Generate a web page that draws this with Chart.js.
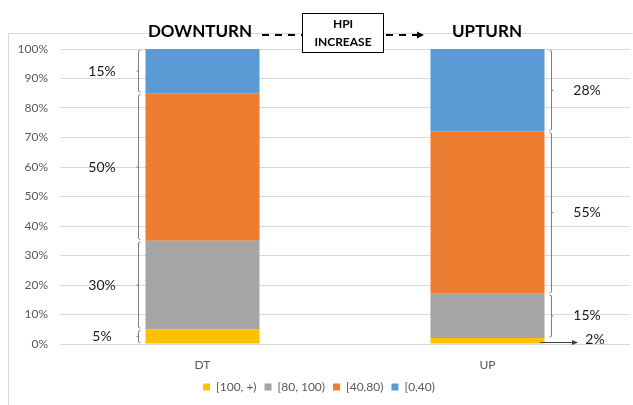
<!DOCTYPE html>
<html>
<head>
<meta charset="utf-8">
<script src="https://cdn.jsdelivr.net/npm/chart.js@4/dist/chart.umd.min.js"></script>
<style>
  html, body { margin: 0; padding: 0; background: #fff; }
  #wrap { width: 633px; height: 405px; }
</style>
</head>
<body>
<div id="wrap"><canvas id="c" width="633" height="405"></canvas></div>
<script>
// categories + series (percent share of each HPI bucket)
const categories = ['DT', 'UP'];
const seriesNames = ['[100, +)', '[80, 100)', '[40,80)', '[0,40)'];
const seriesColors = ['#FFC000', '#A5A5A5', '#ED7D31', '#5B9BD5'];
const valsBand100 = [5, 2];
const valsBand80 = [30, 15];
const valsBand40 = [50, 55];
const valsBand0 = [15, 28];
const yTicks = [0, 10, 20, 30, 40, 50, 60, 70, 80, 90, 100];

const font = 'Lato, "Open Sans", sans-serif';
const allVals = [valsBand100, valsBand80, valsBand40, valsBand0];

// braces + labels next to the bars, and the header text
const annotate = {
  id: 'annotate',
  beforeDraw(chart) {
    const ctx = chart.ctx;
    ctx.save();
    ctx.strokeStyle = '#d9d9d9';
    ctx.lineWidth = 1;
    ctx.beginPath();
    ctx.moveTo(8.5, 405);
    ctx.lineTo(8.5, 33.5);
    ctx.lineTo(632.5, 33.5);
    ctx.stroke();
    ctx.restore();
  },
  afterDraw(chart) {
    const ctx = chart.ctx;
    const y = chart.scales.y;
    ctx.save();

    function brace(x, top, bot, dir) {
      // vertical line with hooks toward the bar and a small tick away from it
      ctx.strokeStyle = '#7f7f7f';
      ctx.lineWidth = 1;
      ctx.beginPath();
      ctx.moveTo(x + dir * 2, top);
      ctx.lineTo(x, top + 1);
      ctx.lineTo(x, bot - 1);
      ctx.lineTo(x + dir * 2, bot);
      const mid = (top + bot) / 2;
      ctx.moveTo(x, mid);
      ctx.lineTo(x - dir * 2, mid);
      ctx.stroke();
    }

    function label(txt, x, yy) {
      ctx.fillStyle = '#1a1a1a';
      ctx.font = '14px ' + font;
      ctx.textAlign = 'center';
      ctx.textBaseline = 'middle';
      ctx.fillText(txt, x, yy);
    }

    // DT (left side)
    let cum = 0;
    allVals.forEach((arr) => {
      const v = arr[0];
      const top = y.getPixelForValue(cum + v) + 1;
      const bot = y.getPixelForValue(cum) - 1;
      brace(138.5, top, bot, 1);
      label(v + '%', 102, (top + bot) / 2);
      cum += v;
    });

    // UP (right side)
    cum = 0;
    allVals.forEach((arr, i) => {
      const v = arr[1];
      const top = y.getPixelForValue(cum + v) + 1;
      const bot = y.getPixelForValue(cum) - 1;
      if (i === 0) {
        // tiny slice: arrow out to the label
        const ay = y.getPixelForValue(0) - 1.5;
        ctx.strokeStyle = '#404040';
        ctx.lineWidth = 1;
        ctx.beginPath();
        ctx.moveTo(540, ay);
        ctx.lineTo(573, ay);
        ctx.stroke();
        ctx.fillStyle = '#404040';
        ctx.beginPath();
        ctx.moveTo(578, ay);
        ctx.lineTo(572, ay - 2.5);
        ctx.lineTo(572, ay + 2.5);
        ctx.closePath();
        ctx.fill();
        label(v + '%', 595, ay - 3);
      } else {
        brace(551.5, top, bot, -1);
        label(v + '%', 587, (top + bot) / 2);
      }
      cum += v;
    });

    // header
    ctx.fillStyle = '#000';
    ctx.font = 'bold 17px ' + font;
    ctx.textAlign = 'center';
    ctx.textBaseline = 'middle';
    ctx.fillText('DOWNTURN', 200, 32);
    ctx.fillText('UPTURN', 487, 32);

    ctx.strokeStyle = '#000';
    ctx.lineWidth = 2;
    ctx.setLineDash([7, 6]);
    ctx.beginPath();
    ctx.moveTo(262, 35);
    ctx.lineTo(302, 35);
    ctx.moveTo(386, 35);
    ctx.lineTo(418, 35);
    ctx.stroke();
    ctx.setLineDash([]);
    ctx.fillStyle = '#000';
    ctx.beginPath();
    ctx.moveTo(424, 35);
    ctx.lineTo(417, 31.5);
    ctx.lineTo(417, 38.5);
    ctx.closePath();
    ctx.fill();

    ctx.fillStyle = '#fff';
    ctx.fillRect(302, 13, 81, 39);
    ctx.lineWidth = 1;
    ctx.strokeRect(302.5, 13.5, 81, 39);
    ctx.fillStyle = '#000';
    ctx.font = 'bold 12px ' + font;
    ctx.fillText('HPI', 343, 24);
    ctx.fillText('INCREASE', 343, 42);
    ctx.restore();
  }
};

new Chart(document.getElementById('c'), {
  type: 'bar',
  data: {
    labels: categories,
    datasets: allVals.map((arr, i) => ({
      label: seriesNames[i],
      data: arr,
      backgroundColor: seriesColors[i],
      borderWidth: 0,
      barPercentage: 0.4,
      categoryPercentage: 1.0
    }))
  },
  options: {
    responsive: false,
    animation: false,
    devicePixelRatio: 1,
    layout: { padding: { left: 8, right: 3, top: 49, bottom: 2 } },
    plugins: {
      legend: {
        position: 'bottom',
        labels: {
          boxWidth: 7,
          boxHeight: 7,
          padding: 8,
          color: '#595959',
          font: { family: font, size: 12 }
        }
      },
      tooltip: { enabled: false }
    },
    scales: {
      x: {
        stacked: true,
        grid: { display: false },
        border: { display: false },
        afterFit(s) { s.height = 29; },
        ticks: { color: '#595959', font: { family: font, size: 12 }, padding: 6 }
      },
      y: {
        stacked: true,
        min: 0,
        max: 100,
        afterBuildTicks(s) { s.ticks = yTicks.map(v => ({ value: v })); },
        afterFit(s) { s.width = 52; },
        grid: { color: '#d9d9d9', drawTicks: false },
        border: { display: false },
        ticks: {
          color: '#595959',
          padding: 12,
          font: { family: font, size: 12 },
          callback: v => v + '%'
        }
      }
    }
  },
  plugins: [annotate]
});
</script>
</body>
</html>
